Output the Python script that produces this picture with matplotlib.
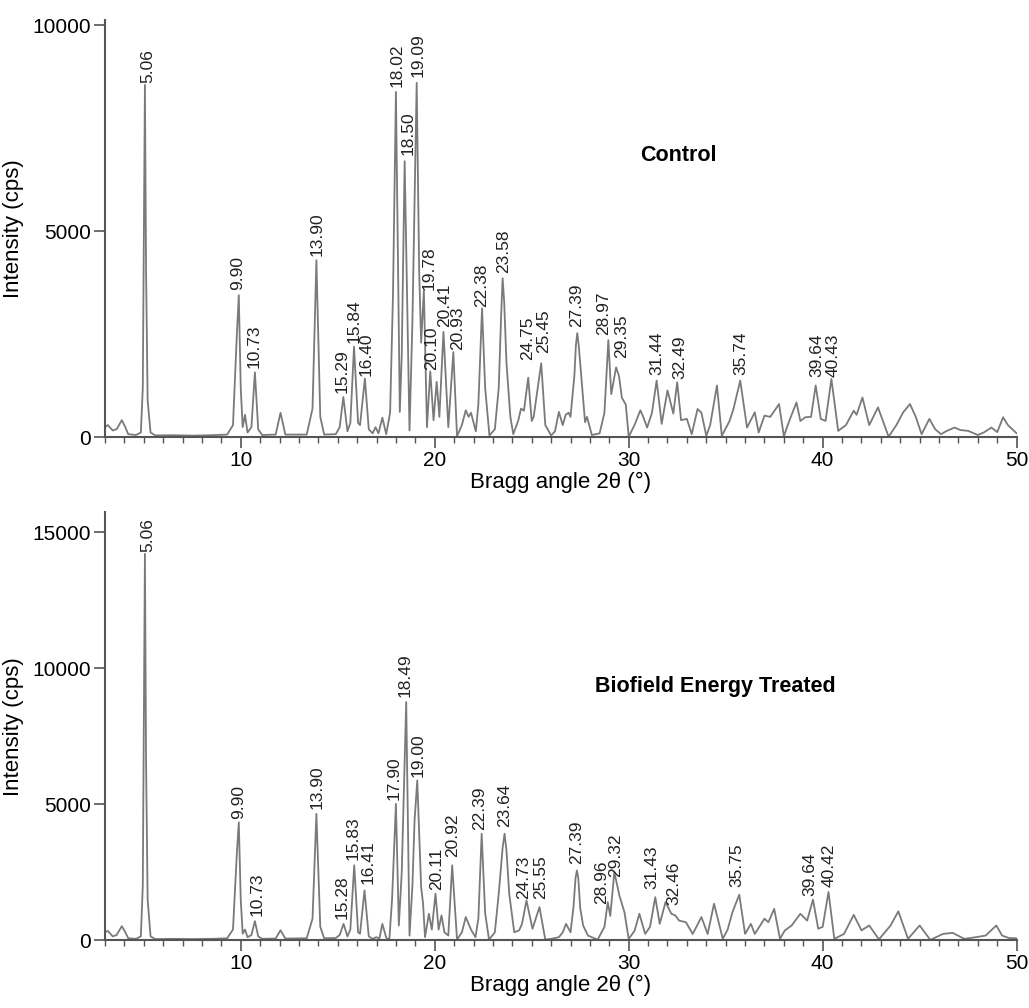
import matplotlib
matplotlib.use("Agg")
import matplotlib.pyplot as plt
from matplotlib.ticker import MultipleLocator

plt.rcParams['font.family'] = ['Liberation Sans', 'DejaVu Sans']

# ---------------- data: Control trace (2theta, intensity) ----------------
ctrl_theta = [3.0, 3.15, 3.4, 3.6, 3.87, 4.05, 4.2, 4.6, 4.85, 4.95, 5.0, 5.06, 5.12, 5.2, 5.35, 5.6,
              6.5, 7.5, 8.5, 9.3, 9.6, 9.8, 9.9, 10.0, 10.1, 10.22, 10.35, 10.55, 10.73, 10.9, 11.1,
              11.8, 12.05, 12.3, 13.4, 13.7, 13.9, 14.1, 14.3, 14.9, 15.1, 15.29, 15.5, 15.65, 15.84,
              16.05, 16.15, 16.4, 16.6, 16.8, 16.95, 17.1, 17.3, 17.5, 17.7, 17.85, 18.0, 18.2, 18.3,
              18.45, 18.7, 18.85, 19.07, 19.2, 19.3, 19.44, 19.6, 19.77, 19.94, 20.1, 20.24, 20.45,
              20.7, 20.96, 21.15, 21.4, 21.6, 21.75, 21.87, 22.12, 22.25, 22.44, 22.6, 22.82, 23.1,
              23.3, 23.42, 23.5, 23.58, 23.7, 23.9, 24.05, 24.3, 24.45, 24.6, 24.82, 25.0, 25.1,
              25.49, 25.7, 26.0, 26.2, 26.4, 26.6, 26.75, 26.9, 27.0, 27.2, 27.28, 27.35, 27.42,
              27.55, 27.75, 27.85, 28.1, 28.5, 28.75, 28.95, 29.1, 29.35, 29.5, 29.65, 29.85, 30.0,
              30.3, 30.6, 30.75, 30.95, 31.2, 31.44, 31.7, 32.0, 32.3, 32.5, 32.7, 33.0, 33.25,
              33.55, 33.75, 34.0, 34.2, 34.55, 34.8, 35.2, 35.4, 35.75, 36.1, 36.5, 36.7, 37.0,
              37.3, 37.75, 38.0, 38.2, 38.35, 38.65, 38.85, 39.1, 39.4, 39.64, 39.9, 40.15, 40.45,
              40.8, 41.2, 41.6, 41.75, 42.05, 42.4, 42.85, 43.4, 43.8, 44.15, 44.5, 44.8, 45.1,
              45.5, 45.8, 46.1, 46.4, 46.8, 47.1, 47.5, 48.0, 48.3, 48.7, 49.0, 49.3, 49.55, 50.0]
ctrl_int = [250, 300, 170, 200, 420, 250, 80, 60, 120, 1200, 4500, 8550, 4000, 900, 120, 50,
            55, 45, 55, 70, 300, 2500, 3450, 1200, 250, 550, 120, 250, 1580, 200, 60,
            70, 600, 70, 70, 700, 4300, 500, 70, 80, 250, 980, 150, 350, 2200,
            350, 300, 1430, 200, 100, 250, 100, 480, 80, 600, 3500, 8380, 620, 2000,
            6700, 170, 2800, 8600, 4000, 2300, 3570, 250, 1600, 420, 1350, 500, 2560,
            250, 2070, 30, 300, 660, 500, 600, 150, 800, 3130, 1200, 50, 200,
            1200, 2900, 3860, 3300, 1800, 500, 80, 400, 700, 650, 1450, 400, 500,
            1800, 300, 50, 150, 620, 300, 550, 600, 500, 1500, 2250, 2530, 2250,
            1500, 370, 500, 60, 100, 600, 2360, 1050, 1700, 1490, 960, 800, 20,
            300, 660, 500, 240, 600, 1380, 330, 1140, 580, 1340, 420, 450, 80,
            690, 600, 40, 300, 1260, 40, 400, 690, 1380, 240, 610, 120, 530,
            500, 810, 30, 300, 490, 850, 400, 490, 500, 1260, 450, 400, 1420,
            160, 300, 650, 550, 970, 300, 730, 20, 300, 610, 810, 500, 80,
            450, 200, 80, 160, 240, 180, 160, 60, 120, 240, 130, 490, 300, 100]

# ---------------- data: Biofield Energy Treated trace ----------------
treat_theta = [3.0, 3.15, 3.4, 3.6, 3.87, 4.05, 4.2, 4.6, 4.85, 4.95, 5.0, 5.06, 5.12, 5.2, 5.35, 5.6,
               6.5, 7.5, 8.5, 9.3, 9.6, 9.8, 9.9, 10.0, 10.1, 10.22, 10.35, 10.55, 10.73, 10.9, 11.1,
               11.8, 12.05, 12.3, 13.4, 13.7, 13.9, 14.1, 14.3, 14.9, 15.1, 15.3, 15.5, 15.65, 15.85,
               16.05, 16.15, 16.38, 16.6, 16.8, 16.98, 17.15, 17.3, 17.5, 17.66, 17.8, 18.0, 18.15,
               18.3, 18.53, 18.7, 18.85, 18.96, 19.1, 19.3, 19.4, 19.5, 19.7, 19.85, 20.04, 20.2,
               20.35, 20.5, 20.7, 20.9, 21.15, 21.4, 21.6, 21.87, 22.1, 22.25, 22.42, 22.6, 22.8,
               23.1, 23.3, 23.5, 23.6, 23.7, 23.84, 24.1, 24.35, 24.5, 24.73, 25.04, 25.4, 25.7,
               26.0, 26.4, 26.6, 26.77, 27.0, 27.15, 27.26, 27.33, 27.4, 27.5, 27.65, 27.9, 28.4,
               28.75, 28.92, 29.05, 29.26, 29.52, 29.78, 30.0, 30.3, 30.55, 30.85, 31.1, 31.37,
               31.6, 31.9, 32.2, 32.4, 32.6, 32.95, 33.3, 33.75, 34.07, 34.4, 34.85, 35.1, 35.35,
               35.7, 36.0, 36.3, 36.5, 37.0, 37.2, 37.5, 37.8, 38.05, 38.4, 38.85, 39.2, 39.5,
               39.77, 40.0, 40.3, 40.6, 41.1, 41.6, 42.0, 42.4, 42.9, 43.5, 43.9, 44.4, 45.0,
               45.55, 46.2, 46.7, 47.3, 47.9, 48.4, 48.95, 49.25, 49.6, 50.0]
treat_int = [300, 350, 150, 200, 525, 300, 80, 60, 150, 2000, 7500, 14200, 6500, 1500, 150, 50,
             60, 50, 60, 80, 400, 3200, 4340, 1500, 250, 400, 120, 200, 710, 150, 60,
             70, 375, 70, 80, 800, 4650, 500, 80, 90, 200, 610, 150, 400, 2760,
             300, 250, 1840, 150, 60, 120, 80, 610, 100, 30, 1500, 5020, 550,
             2500, 8760, 180, 2000, 4400, 5880, 1960, 1350, 120, 980, 400, 1720, 400,
             920, 300, 180, 2760, 30, 300, 860, 400, 120, 800, 3920, 1000, 30,
             300, 1720, 3400, 3920, 3300, 1720, 300, 370, 610, 1470, 430, 1225, 30,
             60, 120, 300, 610, 300, 1200, 2300, 2570, 2300, 1200, 550, 180, 30,
             500, 1410, 900, 2510, 1650, 1040, 60, 350, 980, 240, 500, 1590,
             610, 1410, 980, 920, 730, 670, 240, 860, 240, 1350, 60, 400, 1040,
             1680, 240, 610, 240, 800, 670, 1160, 60, 370, 550, 980, 730, 1500,
             430, 500, 1780, 60, 240, 940, 370, 550, 40, 550, 1070, 60, 550,
             20, 240, 280, 60, 120, 180, 550, 180, 90, 80]

# ---------------- peak labels ----------------
ctrl_labels = ["5.06", "9.90", "10.73", "13.90", "15.29", "15.84", "16.40", "18.02", "18.50",
               "19.09", "19.78", "20.10", "20.41", "20.93", "22.38", "23.58", "24.75", "25.45",
               "27.39", "28.97", "29.35", "31.44", "32.49", "35.74", "39.64", "40.43"]
treat_labels = ["5.06", "9.90", "10.73", "13.90", "15.28", "15.83", "16.41", "17.90", "18.49",
                "19.00", "20.11", "20.92", "22.39", "23.64", "24.73", "25.55", "27.39", "28.96",
                "29.32", "31.43", "32.46", "35.75", "39.64", "40.42"]

# label anchor positions (layout), in data coordinates
ctrl_lab_x = [5.21, 9.85, 10.70, 13.96, 15.22, 15.82, 16.48, 18.05, 18.62, 19.14, 19.73, 19.83,
              20.50, 21.20, 22.40, 23.53, 24.80, 25.62, 27.34, 28.70, 29.62, 31.46, 32.64,
              35.78, 39.70, 40.56]
ctrl_lab_y = [8600, 3570, 1680, 4400, 1070, 2280, 1480, 8500, 6850, 8750, 3570, 1630, 2670,
              2110, 3160, 3990, 1870, 2040, 2670, 2480, 1920, 1510, 1430, 1510, 1460, 1460]
treat_lab_x = [5.21, 9.90, 10.82, 13.96, 15.22, 15.78, 16.55, 17.93, 18.49, 19.14, 20.09,
               20.91, 22.30, 23.59, 24.58, 25.45, 27.34, 28.58, 29.35, 31.20, 32.34, 35.58,
               39.36, 40.32]
treat_lab_y = [14275, 4460, 900, 4840, 775, 2940, 2080, 5150, 8940, 6000, 1840, 3060, 4040,
               4165, 1530, 1530, 2820, 1350, 2330, 1900, 1290, 1960, 1650, 1960]

panels = [
    dict(theta=ctrl_theta, inten=ctrl_int, labels=ctrl_labels, lx=ctrl_lab_x, ly=ctrl_lab_y,
         title="Control", ylim=(0, 10120), yticks=[0, 5000, 10000], tpos=(0.629, 0.676)),
    dict(theta=treat_theta, inten=treat_int, labels=treat_labels, lx=treat_lab_x, ly=treat_lab_y,
         title="Biofield Energy Treated", ylim=(0, 15735), yticks=[0, 5000, 10000, 15000],
         tpos=(0.669, 0.593)),
]

fig = plt.figure(figsize=(10.29, 10.08), dpi=100)
rects = [[0.102, 0.566, 0.886, 0.414], [0.102, 0.067, 0.886, 0.425]]

axis_col = "#555555"
line_col = "#7a7a7a"

for rect, p in zip(rects, panels):
    ax = fig.add_axes(rect)
    ax.plot(p["theta"], p["inten"], color=line_col, lw=1.3)
    ax.set_xlim(3, 50)
    ax.set_ylim(*p["ylim"])
    ax.set_yticks(p["yticks"])
    ax.set_xticks([10, 20, 30, 40, 50])
    ax.xaxis.set_minor_locator(MultipleLocator(1))
    for s in ["top", "right"]:
        ax.spines[s].set_visible(False)
    for s in ["left", "bottom"]:
        ax.spines[s].set_color(axis_col)
        ax.spines[s].set_linewidth(1.5)
    ax.tick_params(axis="both", which="major", direction="out", length=8, width=1.2,
                   color=axis_col, labelsize=15, pad=2)
    ax.tick_params(axis="x", which="minor", direction="out", length=4, width=1.0, color=axis_col)
    ax.set_ylabel("Intensity (cps)", fontsize=16, labelpad=6)
    ax.set_xlabel("Bragg angle 2θ (°)", fontsize=16, labelpad=1)
    for lab, x, y in zip(p["labels"], p["lx"], p["ly"]):
        ax.text(x, y, lab, rotation=90, ha="center", va="bottom", fontsize=12.5, color="#222222")
    ax.text(p["tpos"][0], p["tpos"][1], p["title"], transform=ax.transAxes, ha="center",
            va="center", fontsize=15.5, fontweight="bold")

fig.savefig("out.png", dpi=100)
